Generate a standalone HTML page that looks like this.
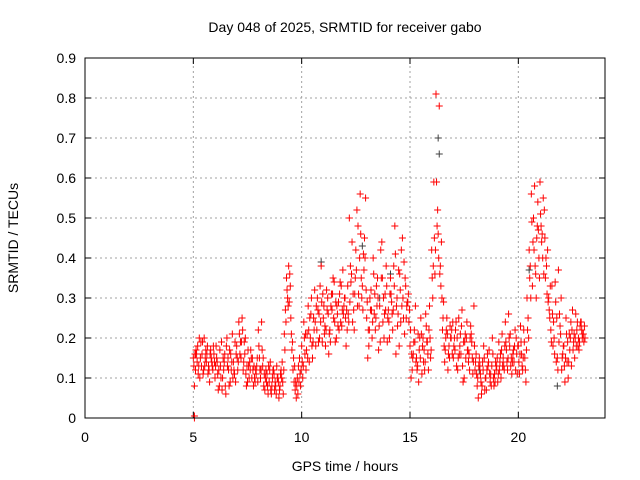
<!DOCTYPE html>
<html>
<head>
<meta charset="utf-8">
<style>
  html,body{margin:0;padding:0;background:#fff;}
  svg{display:block;font-family:"Liberation Sans",sans-serif;}
</style>
</head>
<body>
<svg id="chart" width="640" height="480" viewBox="0 0 640 480">
  <rect x="0" y="0" width="640" height="480" fill="#fff"/>
  <g id="grid"></g>
  <g id="axes"></g>
  <g id="points"></g>
  <rect x="85" y="58" width="520" height="360" fill="none" stroke="#000" stroke-width="1"/>
  <text x="345" y="32" text-anchor="middle" font-size="14" fill="#000">Day 048 of 2025, SRMTID for receiver gabo</text>
  <text x="345" y="471" text-anchor="middle" font-size="14" fill="#000">GPS time / hours</text>
  <text x="18" y="238" text-anchor="middle" font-size="14" fill="#000" transform="rotate(-90 18 238)">SRMTID / TECUs</text>
</svg>
<script>
const xTicks = [0, 5, 10, 15, 20];
const yTicks = [0, 0.1, 0.2, 0.3, 0.4, 0.5, 0.6, 0.7, 0.8, 0.9];
const yTickLabels = ["0","0.1","0.2","0.3","0.4","0.5","0.6","0.7","0.8","0.9"];
const hours = [
5.0,5.1,5.2,5.3,5.4,5.5,5.6,5.7,5.8,5.9,
6.0,6.1,6.2,6.3,6.4,6.5,6.6,6.7,6.8,6.9,
7.0,7.1,7.2,7.3,7.4,7.5,7.6,7.7,7.8,7.9,
8.0,8.1,8.2,8.3,8.4,8.5,8.6,8.7,8.8,8.9,
9.0,9.1,9.2,9.3,9.4,9.5,9.6,9.7,9.8,9.9,
10.0,10.1,10.2,10.3,10.4,10.5,10.6,10.7,10.8,10.9,
11.0,11.1,11.2,11.3,11.4,11.5,11.6,11.7,11.8,11.9,
12.0,12.1,12.2,12.3,12.4,12.5,12.6,12.7,12.8,12.9,
13.0,13.1,13.2,13.3,13.4,13.5,13.6,13.7,13.8,13.9,
14.0,14.1,14.2,14.3,14.4,14.5,14.6,14.7,14.8,14.9,
15.0,15.1,15.2,15.3,15.4,15.5,15.6,15.7,15.8,15.9,
16.0,16.1,16.2,16.3,16.4,16.5,16.6,16.7,16.8,16.9,
17.0,17.1,17.2,17.3,17.4,17.5,17.6,17.7,17.8,17.9,
18.0,18.1,18.2,18.3,18.4,18.5,18.6,18.7,18.8,18.9,
19.0,19.1,19.2,19.3,19.4,19.5,19.6,19.7,19.8,19.9,
20.0,20.1,20.2,20.3,20.4,20.5,20.6,20.7,20.8,20.9,
21.0,21.1,21.2,21.3,21.4,21.5,21.6,21.7,21.8,21.9,
22.0,22.1,22.2,22.3,22.4,22.5,22.6,22.7,22.8,22.9,
23.0];
const srmtidA = [
.15,.12,.18,.10,.16,.20,.14,.13,.17,.12,
.10,.14,.08,.19,.12,.06,.15,.09,.21,.11,
.18,.24,.15,.12,.20,.09,.14,.10,.13,.11,
.22,.10,.13,.07,.11,.09,.06,.12,.08,.10,
.08,.14,.21,.35,.38,.25,.12,.07,.10,.15,
.18,.24,.12,.28,.20,.15,.32,.22,.26,.38,
.25,.18,.30,.22,.27,.34,.20,.29,.24,.37,
.30,.22,.50,.36,.27,.42,.48,.56,.33,.45,
.25,.18,.32,.40,.22,.35,.28,.44,.20,.38,
.27,.35,.22,.48,.30,.18,.42,.25,.33,.29,
.18,.12,.22,.15,.09,.25,.20,.14,.19,.28,
.42,.59,.81,.46,.38,.22,.14,.25,.18,.20,
.15,.22,.12,.18,.27,.10,.20,.14,.23,.11,
.12,.08,.15,.06,.18,.10,.13,.09,.20,.11,
.13,.19,.10,.15,.24,.12,.18,.11,.14,.20,
.18,.23,.12,.15,.30,.42,.56,.50,.36,.54,
.59,.46,.52,.38,.30,.22,.18,.34,.15,.26,
.12,.18,.25,.10,.20,.27,.15,.22,.17,.24,
.21];
const srmtidB = [
.08,.16,.13,.19,.11,.15,.18,.09,.14,.16,
.18,.07,.13,.10,.16,.20,.08,.12,.14,.09,
.12,.16,.25,.19,.08,.13,.17,.12,.09,.15,
.15,.24,.08,.12,.06,.14,.10,.07,.13,.05,
.12,.06,.27,.30,.36,.17,.09,.05,.13,.08,
.10,.16,.21,.14,.30,.25,.18,.27,.33,.19,
.21,.32,.16,.28,.35,.19,.26,.31,.23,.28,
.18,.26,.38,.24,.31,.52,.28,.35,.41,.55,
.15,.30,.20,.26,.33,.17,.42,.24,.31,.19,
.20,.29,.38,.16,.26,.32,.45,.21,.28,.24,
.10,.16,.28,.13,.20,.11,.17,.23,.12,.15,
.30,.36,.48,.78,.44,.29,.20,.12,.23,.16,
.20,.13,.25,.16,.09,.21,.17,.12,.19,.28,
.16,.05,.11,.14,.07,.12,.17,.08,.10,.14,
.09,.14,.21,.12,.17,.26,.13,.16,.22,.11,
.11,.16,.22,.09,.25,.38,.33,.58,.45,.40,
.48,.55,.35,.42,.25,.33,.20,.14,.37,.21,
.16,.09,.14,.21,.13,.19,.26,.18,.23,.20,
.23];
const srmtidC = [
.13,.17,.11,.15,.19,.13,.16,.12,.15,.18,
.13,.11,.17,.07,.14,.18,.12,.16,.10,.19,
.15,.21,.19,.14,.11,.17,.12,.15,.10,.13,
.18,.12,.15,.10,.08,.12,.08,.11,.06,.09,
.11,.09,.17,.32,.29,.21,.15,.09,.06,.11,
.14,.20,.17,.22,.26,.19,.24,.30,.20,.29,
.28,.22,.26,.19,.31,.24,.28,.22,.33,.26,
.25,.33,.29,.44,.22,.37,.31,.46,.27,.40,
.29,.22,.27,.36,.25,.30,.19,.35,.26,.33,
.24,.31,.27,.41,.23,.36,.28,.39,.25,.31,
.22,.15,.19,.12,.17,.21,.14,.26,.16,.20,
.35,.45,.59,.40,.33,.25,.17,.21,.15,.22,
.18,.24,.15,.21,.13,.19,.24,.16,.21,.14,
.14,.10,.13,.08,.15,.07,.14,.11,.16,.09,
.15,.12,.17,.13,.19,.15,.21,.14,.18,.16,
.14,.19,.15,.12,.22,.35,.49,.42,.30,.47,
.51,.40,.45,.31,.27,.19,.24,.29,.12,.23,
.15,.13,.21,.14,.24,.17,.20,.24,.19,.22,
.19];
const srmtidD = [
.16,.14,.20,.13,.12,.17,.11,.16,.13,.14,
.15,.12,.10,.15,.08,.13,.17,.14,.12,.16,
.14,.19,.22,.16,.13,.10,.15,.08,.12,.09,
.12,.17,.11,.09,.13,.07,.12,.09,.10,.07,
.10,.12,.24,.28,.33,.19,.13,.08,.09,.12,
.13,.21,.15,.25,.18,.22,.28,.19,.24,.31,
.23,.27,.21,.31,.25,.29,.23,.34,.27,.30,
.27,.24,.34,.31,.35,.28,.40,.30,.37,.32,
.22,.27,.24,.31,.28,.23,.35,.30,.27,.25,
.31,.26,.33,.28,.37,.24,.30,.35,.29,.27,
.16,.19,.14,.21,.15,.18,.12,.19,.22,.17,
.38,.42,.52,.36,.30,.18,.22,.16,.20,.24,
.17,.20,.16,.23,.19,.15,.17,.20,.15,.18,
.11,.13,.09,.12,.10,.16,.11,.13,.08,.12,
.11,.16,.13,.18,.14,.20,.15,.17,.12,.18,
.16,.13,.19,.17,.20,.30,.44,.38,.48,.35,
.44,.36,.40,.29,.33,.26,.16,.25,.19,.30,
.18,.15,.19,.17,.22,.21,.18,.20,.24,.21,
.20];
const extraHours = [5.05, 5.05, 5.1];
const extraValues = [0, 0.005, 0.16];
const grayHours = [10.9, 12.8, 14.1, 16.3, 16.35, 20.5, 21.8, 13.6, 18.2];
const grayValues = [0.39, 0.43, 0.36, 0.70, 0.66, 0.37, 0.08, 0.30, 0.12];

const NS = "http://www.w3.org/2000/svg";
const X0 = 85, X1 = 605, Y0 = 418, Y1 = 58, XMAX = 24, YMAX = 0.9;
function xScale(v){ return X0 + (v / XMAX) * (X1 - X0); }
function yScale(v){ return Y0 - (v / YMAX) * (Y0 - Y1); }
function mk(tag, attrs, parent){
  const e = document.createElementNS(NS, tag);
  for (const k in attrs) e.setAttribute(k, attrs[k]);
  parent.appendChild(e);
  return e;
}
const grid = document.getElementById('grid');
const axes = document.getElementById('axes');
const pts = document.getElementById('points');

yTicks.forEach((t, i) => {
  const y = yScale(t);
  if (t > 0 && t < YMAX) {
    const g = mk('line', {x1:X0, x2:X1, y1:y, y2:y, stroke:'#a0a0a0', 'stroke-width':1, 'stroke-dasharray':'2,3'}, grid);
    
    
  }
  const tk = mk('line', {x1:X0, x2:X0+6, y1:y, y2:y, stroke:'#000'}, axes);
  
  
  const tk2 = mk('line', {x1:X1-6, x2:X1, y1:y, y2:y, stroke:'#000'}, axes);
  
  
  const lb = mk('text', {x:X0-9, y:y+5, 'text-anchor':'end', 'font-size':14, fill:'#000'}, axes);
  lb.textContent = yTickLabels[i];
  
  
});
xTicks.forEach(t => {
  const x = xScale(t);
  if (t > 0) {
    const g = mk('line', {x1:x, x2:x, y1:Y0, y2:Y1, stroke:'#a0a0a0', 'stroke-width':1, 'stroke-dasharray':'2,3'}, grid);
    
    
  }
  const tk = mk('line', {x1:x, x2:x, y1:Y0, y2:Y0-6, stroke:'#000'}, axes);
  
  
  const tk2 = mk('line', {x1:x, x2:x, y1:Y1, y2:Y1+6, stroke:'#000'}, axes);
  
  
  const lb = mk('text', {x:x, y:Y0+24, 'text-anchor':'middle', 'font-size':14, fill:'#000'}, axes);
  lb.textContent = String(t);
  
  
});

function plus(h, v, color, name){
  const x = xScale(h), y = yScale(v);
  const p = mk('path', {d:'M'+(x-3.5)+' '+y+'H'+(x+3.5)+'M'+x+' '+(y-3.5)+'V'+(y+3.5), stroke:color, 'stroke-width':1, fill:'none'}, pts);
  
  
}
grayHours.forEach((h, i) => plus(h, grayValues[i], '#404040', 'gray-point'));
hours.forEach((h, i) => plus(h, srmtidA[i], '#ff0000', 'srmtid-point'));
hours.forEach((h, i) => plus(h + 0.025, srmtidC[i], '#ff0000', 'srmtid-point'));
hours.forEach((h, i) => plus(h + 0.05, srmtidB[i], '#ff0000', 'srmtid-point'));
hours.forEach((h, i) => plus(h + 0.075, srmtidD[i], '#ff0000', 'srmtid-point'));
extraHours.forEach((h, i) => plus(h, extraValues[i], '#ff0000', 'srmtid-point'));
</script>
</body>
</html>
